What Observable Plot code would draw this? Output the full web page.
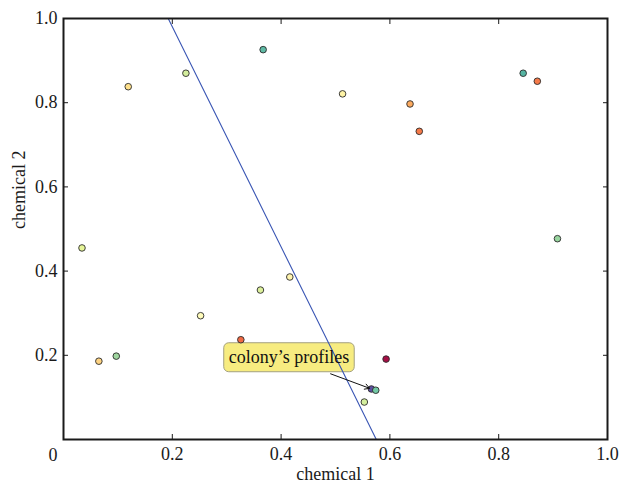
<!DOCTYPE html>
<html><head><meta charset="utf-8">
<script src="https://cdn.jsdelivr.net/npm/d3@7"></script>
<script src="https://cdn.jsdelivr.net/npm/@observablehq/plot@0.6"></script>
<style>html,body{margin:0;padding:0;background:#fff;} #chart{width:621px;height:483px;}</style>
</head><body><div id="chart"></div>
<script>
// colony profiles: chemical 1, chemical 2, colour
const chem1 = [0.119, 0.225, 0.367, 0.513, 0.637, 0.654, 0.845, 0.871, 0.908, 0.034, 0.065, 0.097, 0.252, 0.326, 0.362, 0.416, 0.593, 0.566, 0.574, 0.553];
const chem2 = [0.838, 0.870, 0.926, 0.821, 0.797, 0.732, 0.870, 0.851, 0.477, 0.455, 0.186, 0.198, 0.294, 0.237, 0.355, 0.386, 0.191, 0.120, 0.117, 0.089];
const colors = ["#fee08b", "#d3ed9c", "#5fbaa5", "#fef3a6", "#fcaa5f", "#f57a49", "#55b4a2", "#f67a49", "#98d59f", "#e6f598", "#fed382", "#9fd69f", "#fffcbb", "#f06a44", "#dcf09b", "#fff4ae", "#a50f45", "#5e4fa2", "#72c8a5", "#d4ee9e"];
// decision boundary line
const boundaryX = [0.1925, 0.575];
const boundaryY = [1.0, 0.0];
// ticks
const xTicks = [0.2, 0.4, 0.6, 0.8, 1.0];
const yTicks = [0.2, 0.4, 0.6, 0.8, 1.0];
const originLabel = ["0"];
// annotation
const annoText = ["colony’s profiles"];
const annoX = [0.4145];
const annoY = [0.196];
const arrowX1 = [0.491], arrowY1 = [0.156];
const arrowX2 = [0.566], arrowY2 = [0.120];

const points = chem1.map((x, i) => ({x, y: chem2[i], c: colors[i]}));
const boundary = boundaryX.map((x, i) => ({x, y: boundaryY[i]}));
const anno = annoText.map((t, i) => ({t, x: annoX[i], y: annoY[i]}));
const arrows = arrowX1.map((x1, i) => ({x1, y1: arrowY1[i], x2: arrowX2[i], y2: arrowY2[i]}));
const fmt = d3.format(".1f");

const plot = Plot.plot({
  width: 621, height: 483,
  marginLeft: 63, marginRight: 14, marginTop: 18, marginBottom: 44,
  x: {domain: [0, 1]},
  y: {domain: [0, 1]},
  color: {type: "identity"},
  style: {fontFamily: "'Liberation Serif', 'Times New Roman', serif", fontSize: "18px", background: "white", color: "#1a1a1a", overflow: "visible"},
  marks: [
    Plot.line(boundary, {x: "x", y: "y", stroke: "#3a56b4", strokeWidth: 1.1, className: "boundary"}),
    Plot.dot(points, {x: "x", y: "y", r: 3.3, fill: "c", stroke: "#2a2a2a", strokeWidth: 0.9}),
    Plot.frame({stroke: "#1a1a1a", strokeWidth: 2}),
    Plot.axisX(xTicks, {anchor: "bottom", tickSize: 0, tickPadding: 8, tickFormat: fmt, fontSize: 18, label: null}),
    Plot.axisX(xTicks, {anchor: "bottom", tickSize: -5, tickFormat: () => "", label: null}),
    Plot.axisX(xTicks, {anchor: "top", tickSize: -5, tickFormat: () => "", label: null}),
    Plot.axisY(yTicks, {anchor: "left", tickSize: 0, tickPadding: 6, tickFormat: fmt, fontSize: 18, label: null}),
    Plot.axisY(yTicks, {anchor: "left", tickSize: -5, tickFormat: () => "", label: null}),
    Plot.axisY(yTicks, {anchor: "right", tickSize: -5, tickFormat: () => "", label: null}),
    Plot.axisY([0], {anchor: "left", tickSize: 0, tickPadding: 6, dy: 15.5, tickFormat: () => originLabel[0], fontSize: 18, label: null}),
    Plot.text(["chemical 1"], {frameAnchor: "bottom", dy: 35, lineAnchor: "middle", fontSize: 18, fill: "#1a1a1a"}),
    Plot.text(["chemical 2"], {frameAnchor: "left", dx: -44, rotate: -90, lineAnchor: "middle", fontSize: 18, fill: "#1a1a1a"}),
    Plot.arrow(arrows, {x1: "x1", y1: "y1", x2: "x2", y2: "y2", stroke: "#111", strokeWidth: 1, headLength: 8, insetEnd: 2}),
    Plot.text(anno, {x: "x", y: "y", text: "t", fontSize: 18, fill: "#111", lineAnchor: "middle", className: "anno"})
  ]
});
document.getElementById("chart").appendChild(plot);

// rounded yellow box behind the annotation text
(function () {
  const svg = plot.tagName.toLowerCase() === "svg" ? plot : plot.querySelector("svg");
  const txt = svg.querySelector("g.anno text");
  const line = svg.querySelector("g.boundary");
  if (!txt) return;
  const r = txt.getBoundingClientRect();
  const s = svg.getBoundingClientRect();
  const padX = 5, h = 29;
  const cy = r.y - s.y + r.height / 2 + 0.5;
  const rect = document.createElementNS("http://www.w3.org/2000/svg", "rect");
  rect.setAttribute("x", r.x - s.x - padX);
  rect.setAttribute("y", cy - h / 2);
  rect.setAttribute("width", r.width + 2 * padX);
  rect.setAttribute("height", h);
  rect.setAttribute("rx", 5);
  rect.setAttribute("fill", "#f7ec80");
  rect.setAttribute("stroke", "#a3a080");
  rect.setAttribute("stroke-width", 1);
  line.parentNode.insertBefore(rect, line);
})();
</script>
</body></html>
